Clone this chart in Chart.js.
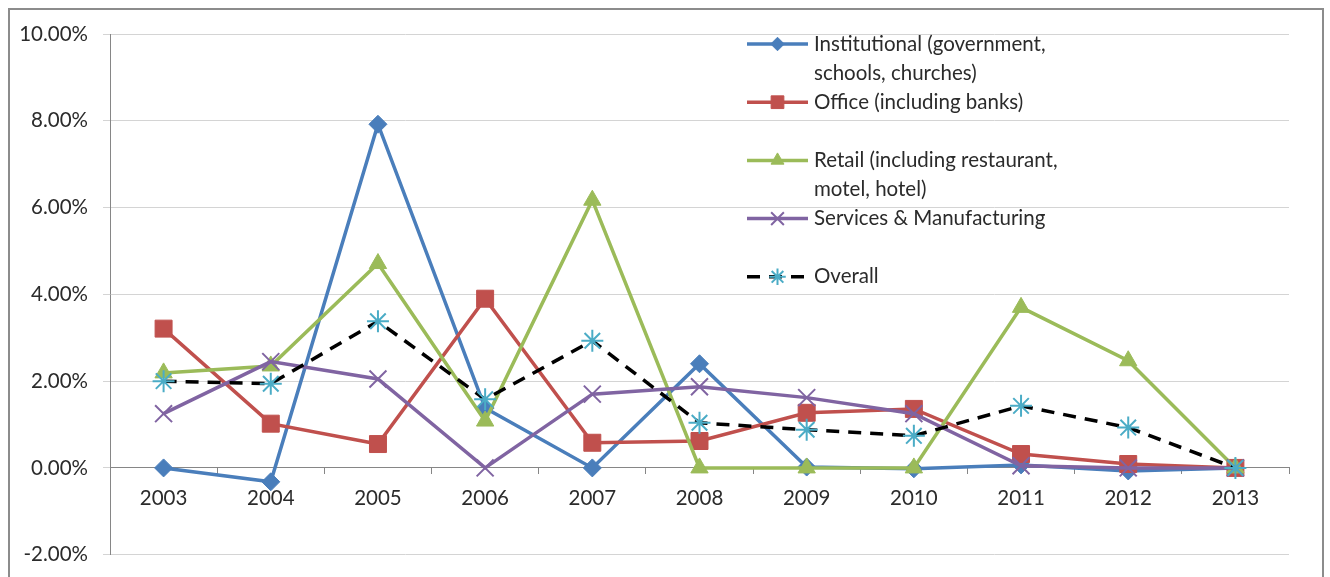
<!DOCTYPE html>
<html>
<head>
<meta charset="utf-8">
<script src="https://cdn.jsdelivr.net/npm/chart.js@4/dist/chart.umd.min.js"></script>
<style>
  html, body { margin: 0; padding: 0; background: #fff; }
  #wrap { position: relative; width: 1330px; height: 577px; overflow: hidden; }
  #frame { position: absolute; left: 8px; top: 8px; width: 1316px; height: 600px; border: 2px solid #8c8c8c; box-sizing: border-box; }
  canvas { position: absolute; left: 0; top: 0; }
</style>
</head>
<body>
<div id="wrap">
  <div id="frame"></div>
  <canvas id="chart" width="1330" height="582"></canvas>
</div>
<script>
const years = ["2003", "2004", "2005", "2006", "2007", "2008", "2009", "2010", "2011", "2012", "2013"];

const institutional = [0.00, -0.32, 7.92, 1.38, 0.00, 2.40, 0.02, -0.02, 0.07, -0.07, 0.00];
const office = [3.21, 1.02, 0.55, 3.90, 0.58, 0.62, 1.27, 1.36, 0.32, 0.09, 0.00];
const retail = [2.19, 2.35, 4.71, 1.08, 6.17, 0.00, 0.00, 0.00, 3.70, 2.47, 0.00];
const services = [1.25, 2.45, 2.05, 0.00, 1.70, 1.87, 1.62, 1.25, 0.05, 0.00, 0.00];
const overall = [2.00, 1.94, 3.38, 1.58, 2.93, 1.04, 0.88, 0.74, 1.43, 0.93, 0.00];

const seriesNames = [
  ["Institutional (government,", "schools, churches)"],
  ["Office (including banks)"],
  ["Retail (including restaurant,", "motel, hotel)"],
  ["Services & Manufacturing"],
  ["Overall"]
];

const yTicks = [-2, 0, 2, 4, 6, 8, 10];

const FONT = "Lato, 'Open Sans', sans-serif";
const textColor = "#2b2b2b";

const legendPlugin = {
  id: "insideLegend",
  afterDraw(chart) {
    const ctx = chart.ctx;
    const x0 = 747, x1 = 808, tx = 814;
    const top = 44, step = 58.2, lineH = 29;
    ctx.save();
    chart.data.datasets.forEach((ds, i) => {
      const y = top + step * i;
      ctx.save();
      ctx.strokeStyle = ds.borderColor;
      ctx.lineWidth = ds.borderWidth;
      ctx.setLineDash(ds.borderDash || []);
      ctx.beginPath();
      ctx.moveTo(x0, y);
      ctx.lineTo(x1, y);
      ctx.stroke();
      ctx.restore();
      ctx.save();
      ctx.fillStyle = ds.pointBackgroundColor;
      ctx.strokeStyle = ds.pointBorderColor;
      ctx.lineWidth = ds.pointBorderWidth;
      Chart.helpers.drawPoint(ctx, {
        pointStyle: ds.pointStyle,
        radius: ds.pointRadius * 0.75,
        rotation: 0,
        borderWidth: ds.pointBorderWidth
      }, (x0 + x1) / 2, y);
      ctx.restore();
      ctx.fillStyle = textColor;
      ctx.font = "20.5px " + FONT;
      ctx.textBaseline = "middle";
      ctx.textAlign = "left";
      seriesNames[i].forEach((line, j) => {
        ctx.fillText(line, tx, y + j * lineH);
      });
    });
    ctx.restore();
  }
};

function series(label, data, color, style, radius, extra) {
  return Object.assign({
    label: label,
    data: data,
    borderColor: color,
    backgroundColor: color,
    borderWidth: 3.5,
    pointStyle: style,
    pointRadius: radius,
    pointBackgroundColor: color,
    pointBorderColor: color,
    pointBorderWidth: 1,
    tension: 0,
    fill: false
  }, extra || {});
}

new Chart(document.getElementById("chart"), {
  type: "line",
  data: {
    labels: years,
    datasets: [
      series(seriesNames[0].join(" "), institutional, "#4a7ebb", "rectRot", 9, { order: 4 }),
      series(seriesNames[1].join(" "), office, "#c0504d", "rect", 12, { order: 3 }),
      series(seriesNames[2].join(" "), retail, "#9bbb59", "triangle", 10, { order: 2 }),
      series(seriesNames[3].join(" "), services, "#8064a2", "crossRot", 12, { order: 1, pointBorderWidth: 2 }),
      series(seriesNames[4].join(" "), overall, "#000000", "star", 11, {
        order: 0,
        borderDash: [13, 9],
        borderWidth: 3.5,
        pointBackgroundColor: "#4bacc6",
        pointBorderColor: "#4bacc6",
        pointBorderWidth: 2
      })
    ]
  },
  options: {
    responsive: false,
    animation: false,
    layout: { padding: { left: 0, top: 34, right: 41, bottom: 23 } },
    plugins: {
      legend: { display: false },
      tooltip: { enabled: false }
    },
    scales: {
      x: {
        position: { y: 0 },
        offset: true,
        grid: {
          offset: true,
          drawOnChartArea: false,
          drawTicks: true,
          tickLength: 6,
          color: "#868686"
        },
        border: { color: "#868686", width: 1 },
        ticks: {
          color: textColor,
          font: { family: FONT, size: 20.5 },
          padding: 12,
          maxRotation: 0
        }
      },
      y: {
        min: -2,
        max: 10,
        afterFit(scale) { scale.width = 110; },
        afterBuildTicks(scale) { scale.ticks = yTicks.map(v => ({ value: v })); },
        grid: {
          color: "#d4d4d4",
          lineWidth: 1,
          tickLength: 7,
          drawTicks: true
        },
        border: { color: "#868686", width: 1 },
        ticks: {
          color: textColor,
          font: { family: FONT, size: 20.5 },
          padding: 15,
          callback: v => v.toFixed(2) + "%"
        }
      }
    }
  },
  plugins: [legendPlugin]
});
</script>
</body>
</html>
